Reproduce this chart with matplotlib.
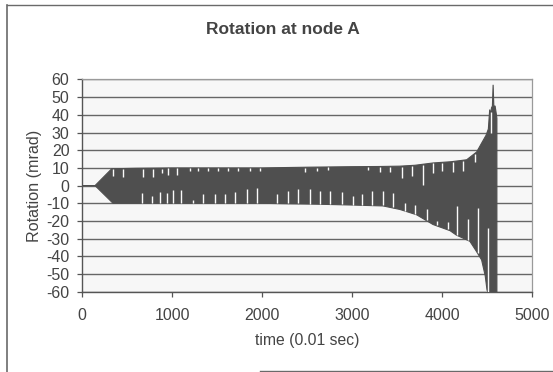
import numpy as np
import matplotlib.pyplot as plt
from matplotlib.lines import Line2D

plt.rcParams['font.family'] = ['Liberation Sans', 'DejaVu Sans']
plt.rcParams['axes.unicode_minus'] = False

title = "Rotation at node A"
x_label = "time (0.01 sec)"
y_label = "Rotation (mrad)"
x_ticks = [0, 1000, 2000, 3000, 4000, 5000]
y_ticks = list(range(-60, 61, 10))

# envelope of the oscillating rotation trace (time in 0.01 s, rotation in mrad)
upper_t = [0, 145, 330, 600, 1000, 1500, 2000, 2500, 3000, 3300, 3533, 3700,
           3900, 4100, 4274, 4385, 4440, 4490, 4515, 4530, 4540, 4550, 4560,
           4568, 4576, 4590, 4605, 4610]
upper_v = [0, 0, 9.5, 9.8, 10, 10, 10, 10.4, 10.7, 10.8, 11, 11.5,
           12.8, 13.5, 14.6, 19, 24, 28.5, 32, 43, 40, 44, 45,
           57, 45, 45, 40, 38]
lower_t = [0, 145, 345, 600, 1000, 1500, 2000, 2311, 2600, 3000, 3345, 3533,
           3718, 3900, 4090, 4160, 4310, 4380, 4440, 4480, 4500, 4520, 4610]
lower_v = [0, 0, -10, -10, -10, -10, -10, -10.3, -10.5, -11, -11.5, -13.5,
           -16.5, -22, -25.5, -28, -31.5, -37, -42, -51, -59, -62, -62]

# narrow unpainted slots the dense trace leaves near its upper edge
top_gap_t = [344, 456, 678, 789, 889, 956, 1056, 1200, 1289, 1400, 1511, 1622,
             1733, 1867, 1978, 2478, 2611, 2733, 3178, 3311, 3422, 3556, 3667,
             3789, 3900, 4000, 4122, 4233, 4367, 4545]
top_gap_depth = [4, 4.5, 5, 5, 3, 4, 4, 1.5, 1.5, 1.5, 1.5, 1.5,
                 1.5, 1.5, 1.5, 2.5, 2, 2, 2, 3, 3, 6.5, 6,
                 11.5, 5.5, 5, 6, 6, 5, 12]
# and near its lower edge (value where each slot ends, in mrad)
bottom_gap_t = [667, 778, 867, 944, 1011, 1100, 1233, 1344, 1478, 1589, 1700,
                1833, 1944, 2167, 2289, 2400, 2533, 2644, 2756, 2889, 3011, 3111,
                3222, 3344, 3456, 3589, 3700, 3833, 3944, 4067, 4167, 4289, 4400,
                4511]
bottom_gap_top = [-4, -6, -3.5, -4, -2.5, -2.5, -8, -5, -5, -5, -3.5,
                  -2, -1.5, -4.5, -3, -2, -2, -3, -3, -3.5, -6, -5,
                  -3, -3, -4, -10, -11, -13.5, -20, -20.5, -11.5, -19, -12.5,
                  -24]

W, H = 553, 372
fig = plt.figure(figsize=(W / 100, H / 100), dpi=100)
fig.patch.set_facecolor('white')

ax = fig.add_axes([82 / W, 1 - 291.7 / H, (532 - 82) / W, (291.7 - 79.5) / H])
bg = '#f7f7f7'
ax.set_facecolor(bg)

trace = '#4f4f4f'
poly_t = np.r_[upper_t, lower_t[::-1]]
poly_v = np.r_[upper_v, lower_v[::-1]]
ax.fill(poly_t, poly_v, color=trace, lw=0.8, zorder=3)

up_edge = np.interp(top_gap_t, upper_t, upper_v)
ax.vlines(top_gap_t, up_edge - np.array(top_gap_depth), up_edge - 0.3,
          colors='#fafafa', lw=1.0, zorder=4)
lo_edge = np.interp(bottom_gap_t, lower_t, lower_v)
ax.vlines(bottom_gap_t, lo_edge + 0.3, bottom_gap_top,
          colors='#fafafa', lw=1.0, zorder=4)

ax.set_xlim(0, 5000)
ax.set_ylim(-60, 60)
ax.set_xticks(x_ticks)
ax.set_yticks(y_ticks)
ax.yaxis.grid(True, color='#666666', lw=1.0)
ax.set_axisbelow(True)

txt = '#444444'
ax.tick_params(axis='both', direction='out', length=3.5, width=0.9,
               color='#555555', labelcolor=txt, labelsize=11.5)
ax.tick_params(axis='y', pad=5.5)
ax.tick_params(axis='x', pad=8.5)
for side in ('left', 'bottom'):
    ax.spines[side].set_color('#555555')
    ax.spines[side].set_linewidth(1.0)
for side in ('top', 'right'):
    ax.spines[side].set_color('#9a9a9a')
    ax.spines[side].set_linewidth(0.9)

ax.set_xlabel(x_label, fontsize=11.3, color=txt, labelpad=7)
ax.set_ylabel(y_label, fontsize=11.6, color=txt, labelpad=3)
fig.text(283 / W, 1 - 30 / H, title, ha='center', va='center',
         fontsize=12.5, fontweight='bold', color=txt)

# outer chart frame
frame = '#6a6a6a'
fig.add_artist(Line2D([7 / W, 7 / W], [0, 1 - 5 / H], color=frame, lw=1.2,
                      transform=fig.transFigure))
fig.add_artist(Line2D([7 / W, 1], [1 - 5 / H, 1 - 5 / H], color=frame, lw=1.0,
                      transform=fig.transFigure))
fig.add_artist(Line2D([260 / W, 1], [1.5 / H, 1.5 / H], color=frame, lw=1.0,
                      transform=fig.transFigure))

fig.savefig('out.png', dpi=100, facecolor='white')
